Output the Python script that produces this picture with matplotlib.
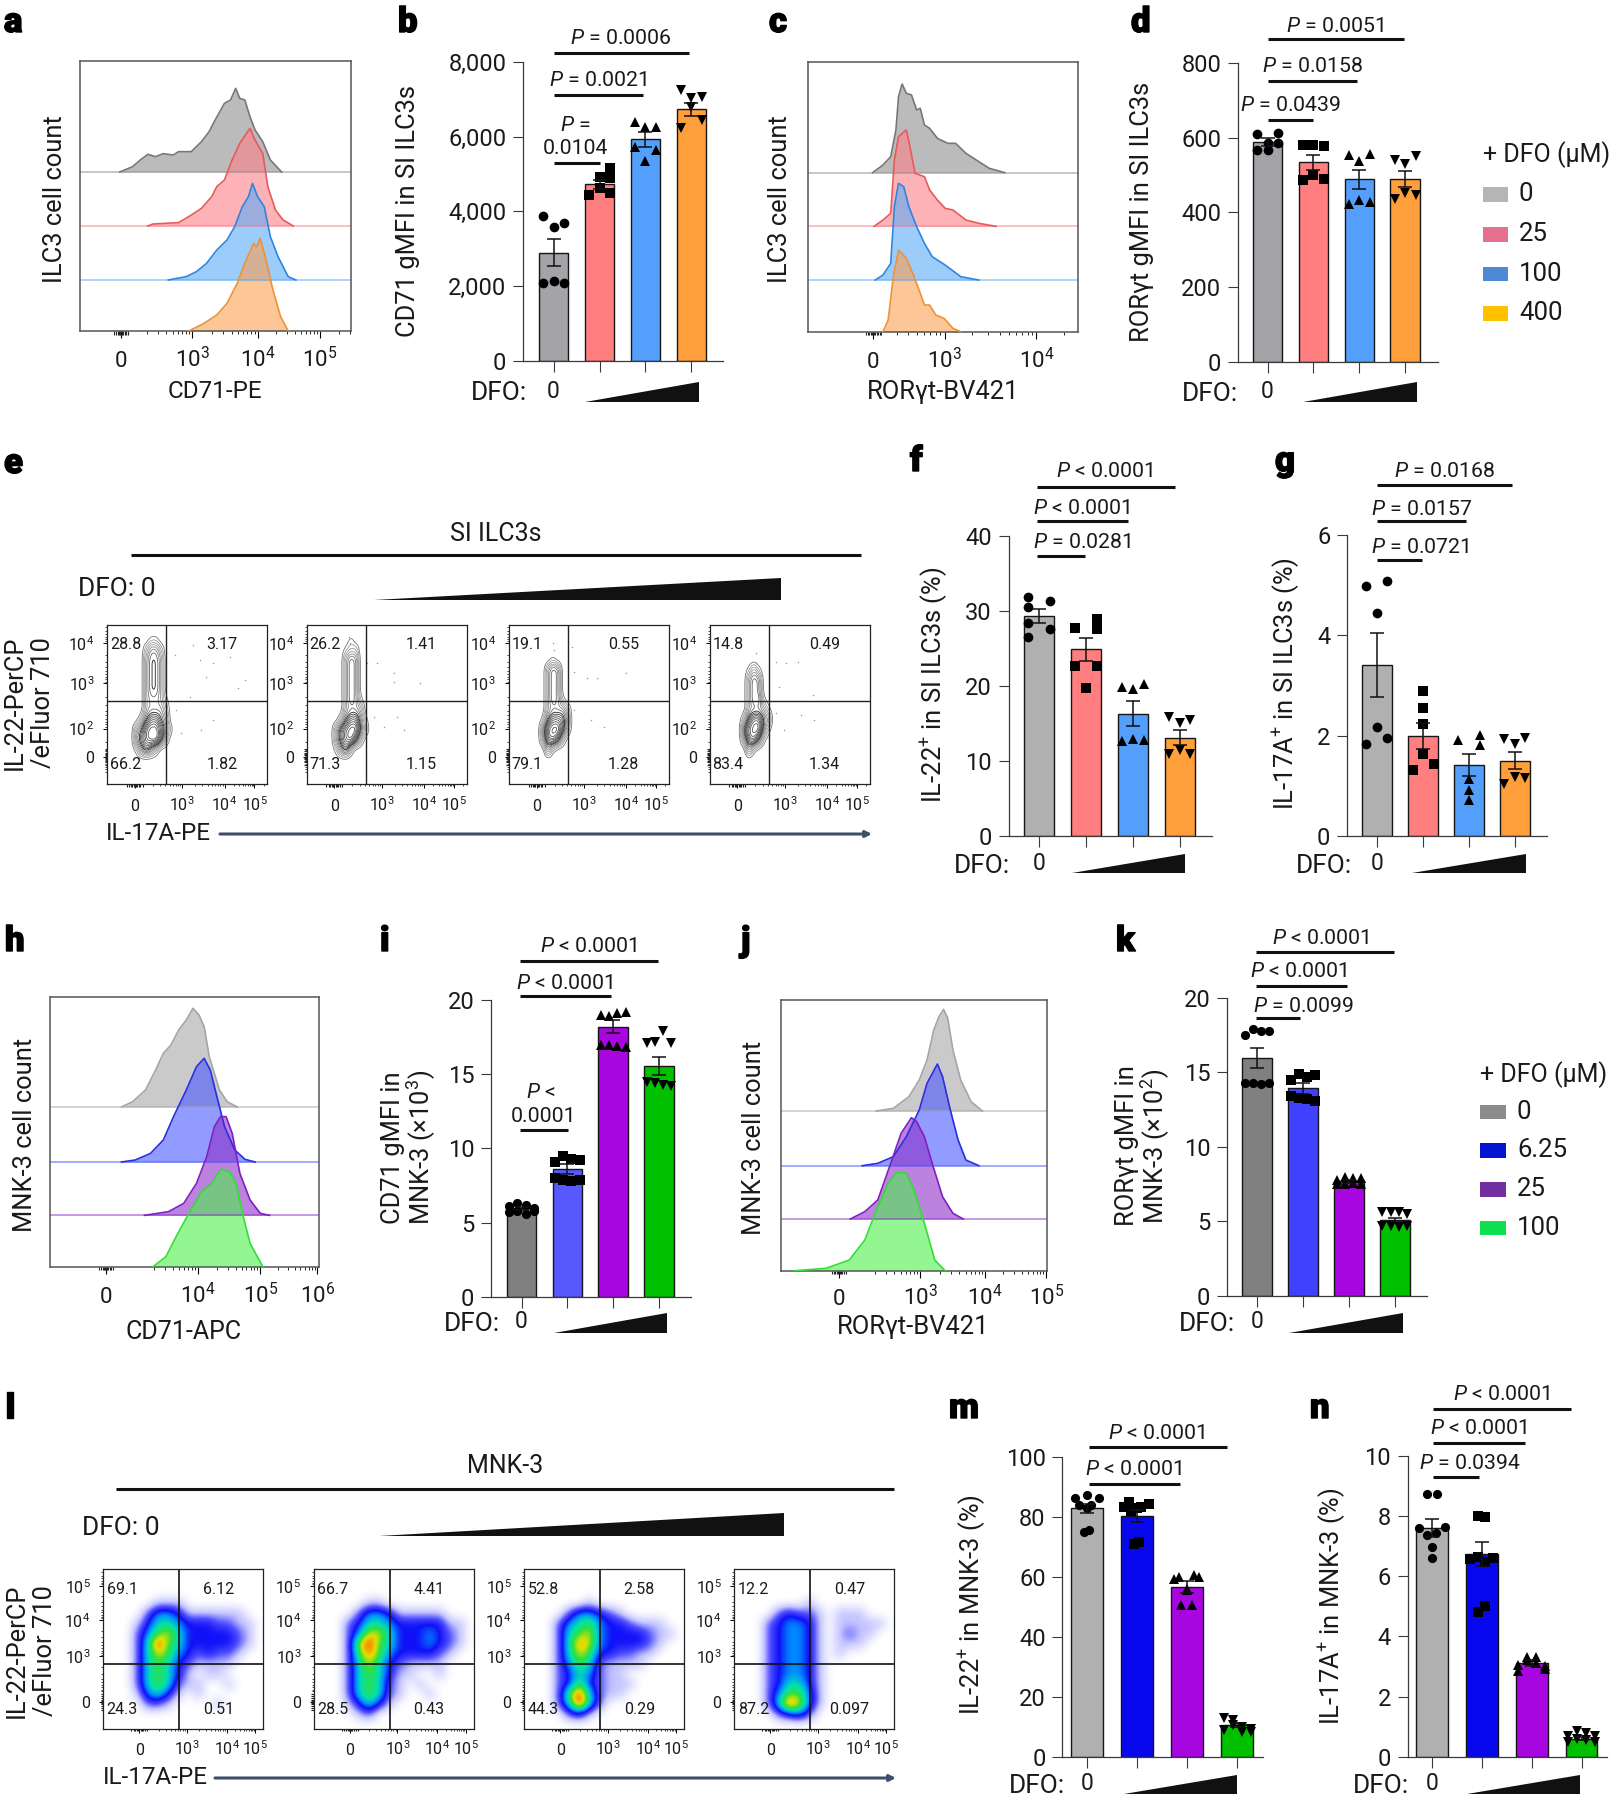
import numpy as np
import matplotlib
matplotlib.use("Agg")
import matplotlib.pyplot as plt
from matplotlib.colors import LinearSegmentedColormap
import matplotlib.patheffects as pe

FONT = "Roboto"
plt.rcParams["font.family"] = [FONT, "DejaVu Sans"]
plt.rcParams["mathtext.fontset"] = "custom"
plt.rcParams["mathtext.rm"] = FONT
plt.rcParams["mathtext.it"] = FONT + ":italic"
plt.rcParams["mathtext.bf"] = FONT + ":bold"
plt.rcParams["mathtext.default"] = "regular"

W, H = 1613, 1800

# ------------------------------------------------ bar chart data
b_means = [2900, 4720, 5930, 6730]
b_sem = [356, 130, 200, 170]
b_pts = [[3875, 3573, 3697, 2094, 2138, 2094], [4440, 4615, 4930, 4480, 4880, 5150],
         [6400, 6245, 6265, 5730, 5355, 5640], [7240, 7020, 7065, 6220, 6800, 6440]]
d_means = [589, 535, 489, 489]
d_sem = [10, 20, 26, 21]
d_pts = [[610, 586, 612, 568, 568, 586], [581, 581, 578, 487, 500, 490],
         [554, 538, 556, 424, 433, 427], [541, 530, 552, 436, 451, 447]]
f_means = [29.4, 24.9, 16.3, 13.1]
f_sem = [0.95, 1.5, 1.63, 1.0]
f_pts = [[30.6, 31.9, 31.4, 28.4, 26.6, 27.6], [27.8, 28.9, 27.6, 22.7, 19.7, 22.7],
         [19.8, 19.6, 20.3, 12.6, 12.9, 12.8], [15.8, 15.1, 15.4, 10.9, 11.4, 10.9]]
g_means = [3.41, 2.0, 1.42, 1.5]
g_sem = [0.64, 0.26, 0.22, 0.17]
g_pts = [[4.99, 4.45, 5.09, 1.84, 2.18, 1.96], [1.31, 2.9, 1.44, 2.56, 2.24, 1.64],
         [1.92, 1.14, 2.01, 0.91, 0.71, 1.81], [1.93, 1.84, 1.96, 1.03, 1.18, 1.16]]
i_means = [5.95, 8.6, 18.2, 15.55]
i_sem = [0.1, 0.35, 0.45, 0.6]
i_pts = [[6.1, 6.3, 6.2, 6.0, 5.7, 5.8, 5.6, 5.8], [9.1, 9.5, 9.3, 9.2, 8.0, 7.9, 7.8, 7.9],
         [19.0, 18.9, 19.1, 19.2, 17.0, 17.0, 16.9, 16.8], [17.1, 17.2, 17.9, 17.1, 14.5, 14.4, 14.3, 14.2]]
k_means = [15.97, 13.93, 7.7, 5.1]
k_sem = [0.65, 0.35, 0.1, 0.1]
k_pts = [[17.5, 17.9, 17.8, 17.8, 14.3, 14.3, 14.2, 14.3], [14.5, 14.9, 14.7, 14.8, 13.4, 13.3, 13.2, 13.1],
         [7.8, 8.0, 7.9, 7.9, 7.5, 7.5, 7.6, 7.5], [5.6, 5.6, 5.6, 5.5, 4.7, 4.7, 4.6, 4.7]]
m_means = [82.9, 80.4, 56.6, 10.6]
m_sem = [1.5, 2.0, 2.0, 0.8]
m_pts = [[86.4, 87.2, 86.1, 84, 84, 83, 75, 75.6], [83.3, 85, 82.8, 84.4, 83.3, 82, 70.9, 71.7],
         [60, 60.6, 59.4, 60, 55.6, 56, 50.5, 50.5], [12.8, 12.4, 10, 9.4, 8.9, 10.6, 8.3, 8.3]]
n_means = [7.59, 6.73, 3.1, 0.6]
n_sem = [0.3, 0.4, 0.1, 0.05]
n_pts = [[8.73, 8.73, 7.59, 7.65, 7.37, 7.43, 6.98, 6.6], [8.02, 7.97, 6.56, 6.65, 6.62, 6.49, 5.02, 4.82],
         [3.05, 3.3, 3.3, 3.0, 2.85, 3.2, 3.1, 2.9], [0.7, 0.85, 0.8, 0.7, 0.5, 0.6, 0.55, 0.5]]

# horizontal spread of the points where they do not follow the default pattern
b_spread = {1: [-0.22, 0.0, 0.0, 0.22, 0.22, 0.22]}
f_spread = {0: [-0.24, -0.24, 0.23, -0.24, -0.24, 0.23], 1: [-0.24, 0.24, 0.24, -0.24, 0.0, 0.24]}
g_spread = {1: [-0.22, 0.0, 0.24, 0.0, 0.0, 0.0], 2: [-0.23, 0.0, 0.24, 0.0, 0.0, 0.24]}
m_spread = {0: [-0.23, 0.0, 0.24, -0.15, 0.09, 0.0, -0.06, 0.05],
            1: [-0.25, -0.16, 0.01, 0.24, 0.09, -0.12, -0.06, 0.05],
            2: [-0.17, 0.13, -0.26, 0.24, 0.0, 0.0, -0.13, 0.09]}
n_spread = {0: [-0.1, 0.1, -0.27, 0.25, -0.1, 0.07, 0.0, 0.0],
            1: [-0.07, 0.06, -0.24, -0.07, 0.23, 0.06, 0.06, -0.08]}

b_yticks = [0, 2000, 4000, 6000, 8000]
b_ylabels = ["0", "2,000", "4,000", "6,000", "8,000"]
d_yticks = [0, 200, 400, 600, 800]
f_yticks = [0, 10, 20, 30, 40]
g_yticks = [0, 2, 4, 6]
ik_yticks = [0, 5, 10, 15, 20]
m_yticks = [0, 20, 40, 60, 80, 100]
n_yticks = [0, 2, 4, 6, 8, 10]

si_colors = ["#a3a3a8", "#ff7f80", "#559ffc", "#ff9f3c"]
si_colors2 = ["#b0b0b0", "#ff7f80", "#559ffc", "#ff9f3c"]
i_colors = ["#808080", "#5858ff", "#a806e0", "#00c000"]
k_colors = ["#808080", "#4040ff", "#a806e0", "#00c000"]
mn_colors = ["#b0b0b0", "#0808ee", "#a806e0", "#00c000"]

legend_si_labels = ["0", "25", "100", "400"]
legend_si_colors = ["#b5b5b5", "#e5708f", "#4f88d4", "#ffc000"]
legend_mn_labels = ["0", "6.25", "25", "100"]
legend_mn_colors = ["#8c8c8c", "#0414d0", "#7030a0", "#10e050"]

# ------------------------------------------------ histogram data (channel, height)
a_grey_x = [235, 260, 275, 290, 305, 320, 340, 350, 375, 395, 410, 420, 440, 452, 462, 470, 480, 490, 500, 515, 530, 552]
a_grey_h = [0, 16, 36, 53, 46, 55, 51, 61, 61, 91, 121, 151, 206, 216, 251, 221, 216, 166, 126, 91, 36, 0]
a_red_x = [290, 300, 350, 370, 395, 415, 425, 440, 455, 470, 490, 500, 515, 525, 540, 555, 575]
a_red_h = [0, 6, 10, 28, 53, 88, 118, 138, 198, 248, 293, 258, 218, 118, 48, 18, 0]
a_blue_x = [330, 365, 385, 405, 425, 445, 460, 475, 487, 495, 505, 518, 530, 545, 565, 580]
a_blue_h = [0, 10, 25, 50, 90, 120, 160, 220, 250, 290, 250, 220, 130, 70, 10, 0]
a_orange_x = [370, 400, 425, 445, 465, 480, 497, 503, 510, 520, 535, 550, 565]
a_orange_h = [0, 23, 48, 83, 143, 203, 263, 253, 278, 223, 123, 43, 0]

c_grey_x = [140, 160, 175, 185, 190, 197, 205, 215, 225, 232, 240, 250, 265, 285, 300, 320, 340, 365, 395]
c_grey_h = [0, 23, 48, 128, 228, 266, 238, 233, 188, 193, 143, 133, 103, 88, 88, 58, 38, 13, 0]
c_red_x = [143, 160, 175, 182, 190, 205, 212, 222, 240, 250, 265, 280, 295, 320, 345, 378]
c_red_h = [0, 19, 39, 199, 269, 289, 239, 159, 149, 109, 79, 54, 49, 19, 9, 0]
c_blue_x = [145, 160, 175, 182, 190, 200, 210, 225, 240, 255, 280, 310, 345]
c_blue_h = [0, 15, 50, 220, 290, 280, 220, 160, 110, 70, 45, 10, 0]
c_orange_x = [160, 170, 180, 190, 205, 220, 232, 240, 250, 262, 278, 295, 310]
c_orange_h = [0, 35, 165, 245, 220, 165, 115, 80, 80, 50, 40, 10, 0]

h_grey_x = [238, 260, 285, 305, 320, 335, 350, 365, 378, 390, 400, 410, 430, 445, 465]
h_grey_h = [0, 16, 51, 111, 161, 186, 231, 261, 296, 276, 241, 151, 51, 16, 0]
h_blue_x = [238, 265, 295, 320, 340, 365, 385, 400, 412, 425, 440, 460, 480, 500]
h_blue_h = [0, 6, 26, 66, 136, 216, 286, 311, 276, 196, 106, 36, 8, 0]
h_purple_x = [283, 330, 360, 385, 405, 420, 432, 443, 455, 470, 490, 510, 528]
h_purple_h = [0, 11, 36, 96, 176, 266, 296, 296, 246, 126, 46, 6, 0]
h_green_x = [300, 325, 345, 370, 395, 415, 432, 450, 462, 475, 490, 515]
h_green_h = [0, 30, 90, 160, 225, 250, 292, 285, 250, 160, 70, 0]

j_grey_x = [147, 180, 210, 230, 245, 258, 268, 277, 285, 295, 310, 330, 352]
j_grey_h = [0, 8, 43, 93, 153, 243, 283, 305, 278, 183, 93, 28, 0]
j_blue_x = [120, 150, 180, 205, 230, 245, 265, 275, 290, 305, 320, 345]
j_blue_h = [0, 7, 27, 87, 167, 247, 305, 267, 167, 77, 17, 0]
j_purple_x = [97, 125, 150, 175, 195, 215, 225, 240, 255, 275, 295, 315]
j_purple_h = [0, 22, 57, 167, 257, 304, 292, 247, 167, 67, 17, 0]
j_green_x = [-10, 50, 95, 125, 150, 170, 187, 205, 220, 240, 260, 280]
j_green_h = [0, 7, 32, 92, 192, 262, 295, 292, 242, 142, 32, 0]

# ------------------------------------------------ flow plot data
e_upper_left = ["28.8", "26.2", "19.1", "14.8"]
e_upper_right = ["3.17", "1.41", "0.55", "0.49"]
e_lower_left = ["66.2", "71.3", "79.1", "83.4"]
e_lower_right = ["1.82", "1.15", "1.28", "1.34"]
l_upper_left = ["69.1", "66.7", "52.8", "12.2"]
l_upper_right = ["6.12", "4.41", "2.58", "0.47"]
l_lower_left = ["24.3", "28.5", "44.3", "87.2"]
l_lower_right = ["0.51", "0.43", "0.29", "0.097"]

# contour density: digits 0-9, one string per row
e1_density = ["00011000", "00244200", "00355300", "00355300", "00355300", "00355300", "00344310",
              "00344420", "02577530", "35899741", "46899620", "14642000", "00000000"]
e2_density = ["00010000", "00122000", "00354000", "00354000", "00354000", "00354000", "00354100",
              "00344300", "02577410", "36899520", "36896200", "14620000", "00000000"]
e3_density = ["00000000", "00000000", "00010000", "00354000", "00354000", "00354000", "00354100",
              "00344420", "01577630", "04899620", "03786200", "00410000", "00000000"]
e4_density = ["00000000", "00000000", "00000000", "00131000", "00354000", "00354000", "00355100",
              "00344310", "02688530", "05899410", "03785100", "00410000", "00000000"]
e_density = [e1_density, e2_density, e3_density, e4_density]
e_dots_x = [[204, 259, 279, 319, 299, 414, 394, 209, 284, 319, 224, 249, 369],
            [182, 212, 262, 262, 342, 202, 272, 292, 232, 127, 132],
            [192, 197, 237, 267, 352, 197, 247, 287, 132, 137],
            [140, 140, 200, 230, 265, 210, 310, 200, 225, 275, 315]]
e_dots_y = [[92, 62, 107, 117, 157, 167, 192, 257, 317, 287, 327, 217, 97],
            [117, 117, 147, 172, 177, 277, 277, 317, 307, 37, 57],
            [67, 142, 162, 162, 147, 257, 287, 307, 57, 77],
            [87, 117, 112, 117, 112, 187, 212, 267, 317, 272, 287]]

# pseudocolour density: digits 0-9, one string per row
l1_density = ["0000000000000000", "0000000000000000", "0000000000000000", "0000011100000000",
              "0000244311111100", "0001355433322110", "0002467533333210", "0002596533333210",
              "0002576432322100", "0002565321111000", "0002565310110000", "0002565211001000",
              "0001453101000000", "0000221000010000", "0000000000000000", "0000000000000000"]
l2_density = ["0000000000000000", "0000000000000000", "0000000000000000", "0000011000000000",
              "0000244311111000", "0002355433333110", "0002477533343210", "0002796533343210",
              "0002686433332100", "0002575321111000", "0002565311001000", "0002565210100000",
              "0002565210010000", "0001353100000000", "0000120000000000", "0000000000000000"]
l3_density = ["0000000000000000", "0000000000000000", "0000000000000000", "0000001000000000",
              "0000244321000000", "0002456433211100", "0002567433332110", "0002587433332100",
              "0002576332211000", "0002465211110000", "0002354211000000", "0002363211100000",
              "0002695211000000", "0002595200000000", "0000231000000000", "0000000000000000"]
l4_density = ["0000000000000000", "0000000000000000", "0000000000000000", "0000000100000000",
              "0000232210111000", "0002344310111110", "0002344310121100", "0002344310111000",
              "0002344310100000", "0002344310000000", "0002344310000000", "0002355310000000",
              "0002466410000000", "0002597410000000", "0000234200000000", "0000000000000000"]
l_density = [l1_density, l2_density, l3_density, l4_density]

# ------------------------------------------------ canvas helpers
fig = plt.figure(figsize=(W / 100, H / 100), dpi=100, facecolor="white")
ov = fig.add_axes([0, 0, 1, 1], zorder=20)
ov.set_xlim(0, W)
ov.set_ylim(H, 0)
ov.axis("off")
ov.patch.set_alpha(0)


def axpx(l, t, r, b):
    return fig.add_axes([l / W, 1 - b / H, (r - l) / W, (b - t) / H])


def T(x, y, s, size=18, ha="center", va="center", rot=0, **kw):
    ov.text(x, y, s, fontsize=size, ha=ha, va=va, rotation=rot, color=kw.pop("color", "#1a1a1a"), **kw)


def L(x0, x1, y, lw=2.2, color="#111111"):
    ov.plot([x0, x1], [y, y], color=color, lw=lw, solid_capstyle="butt")


def wedge(x0, x1, yb, yt):
    ov.fill([x0, x1, x1], [yb, yb, yt], color="#111111", lw=0)


def P(s):
    return "$\\mathit{P}$" + s


def minors(decades, lo, hi):
    out = []
    logs = np.log10(np.arange(2, 10))
    for p0, p1 in zip(decades[:-1], decades[1:]):
        out += list(p0 + (p1 - p0) * logs)
    step = decades[1] - decades[0]
    out += list(decades[0] - step * (1 - logs))
    step = decades[-1] - decades[-2]
    out += list(decades[-1] + step * logs)
    a, c = min(lo, hi), max(lo, hi)
    return [v for v in out if a <= v <= c]


CLUSTER = np.array([-1, -0.72, -0.5, -0.3, -0.15, 0, 0.15, 0.3, 0.5, 0.72, 1])


def zero_cluster(ax, pos, spread, axis="x"):
    if axis == "x":
        ax.vlines(pos + CLUSTER * spread, -0.014, 0, transform=ax.get_xaxis_transform(),
                  color="#222222", lw=0.8, clip_on=False)
    else:
        ax.hlines(pos + CLUSTER * spread, -0.014, 0, transform=ax.get_yaxis_transform(),
                  color="#222222", lw=0.8, clip_on=False)


SPINE = "#3a3a3a"
MARK = ["o", "s", "^", "v"]
OFF6 = [-0.23, 0.0, 0.23, -0.23, 0.0, 0.23]
OFF8 = [-0.27, -0.09, 0.09, 0.27, -0.27, -0.09, 0.09, 0.27]


def bars(box, means, sem, pts, colors, yticks, ylab, margins, spread=None):
    ax = axpx(*box)
    x = np.arange(4)
    ax.bar(x, means, width=0.64, color=colors, edgecolor="#151515", linewidth=1.0, zorder=2)
    off = OFF6 if len(pts[0]) == 6 else OFF8
    ms = 7.0 if len(pts[0]) == 6 else 6.6
    for i in x:
        o = (spread or {}).get(int(i), off)
        ax.plot(i + np.array(o), pts[i], ls="none", marker=MARK[i], color="black", ms=ms, mew=0, zorder=3)
    ax.errorbar(x, means, yerr=sem, fmt="none", ecolor="#111111", elinewidth=1.1, capsize=5, capthick=1.1, zorder=4)
    ax.set_xlim(-margins[0], 3 + margins[1])
    ax.set_ylim(0, yticks[-1])
    ax.set_xticks(x)
    ax.set_xticklabels([])
    ax.set_yticks(yticks)
    ax.set_yticklabels(ylab if ylab else [str(v) for v in yticks])
    ax.tick_params(axis="x", length=8, width=0.8, color=SPINE)
    ax.tick_params(axis="y", length=7, width=0.8, color=SPINE, labelsize=17, pad=5, labelcolor="#1a1a1a")
    for s in ("top", "right"):
        ax.spines[s].set_visible(False)
    for s in ("left", "bottom"):
        ax.spines[s].set_color(SPINE)
        ax.spines[s].set_linewidth(0.9)
    ax.patch.set_alpha(0)
    return ax


def hist(box, xlim, total, bases, curves, line_cols, fill_cols, ticks, labels, tick_pad):
    ax = axpx(*box)
    for (cx, ch), base, lc, fc in zip(curves, bases, line_cols, fill_cols):
        cx, ch = np.array(cx, float), np.array(ch, float)
        ax.fill_between(cx, base, base + ch, color=fc, alpha=0.6, lw=0, zorder=2)
        ax.plot(cx, base + ch, color=lc, lw=1.2, zorder=3)
        if base > 0:
            ax.plot(xlim, [base, base], color=fc, lw=1.4, alpha=0.5, zorder=2.5, solid_capstyle="butt")
    ax.set_xlim(*xlim)
    ax.set_ylim(0, total)
    ax.set_yticks([])
    ax.set_xticks(ticks)
    ax.set_xticklabels(labels)
    ax.set_xticks(minors(ticks[1:], xlim[0], xlim[1]), minor=True)
    ax.tick_params(axis="x", which="major", length=5, width=0.8, labelsize=16, pad=tick_pad, labelcolor="#1a1a1a")
    ax.tick_params(axis="x", which="minor", length=2.5, width=0.6)
    for t in ax.get_xticklabels():
        t.set_va("baseline")
    zero_cluster(ax, ticks[0], 14)
    for s in ax.spines.values():
        s.set_color("#555555")
        s.set_linewidth(1.1)
    return ax


def digits(rows):
    return np.array([[int(c) for c in r] for r in rows], float)


def upsample(grid, f):
    up = np.kron(grid, np.ones((f, f)))
    up = np.pad(up, f, mode="constant")
    ker = np.ones(f) / f
    for _ in range(2):
        up = np.apply_along_axis(lambda v: np.convolve(v, ker, mode="same"), 0, up)
        up = np.apply_along_axis(lambda v: np.convolve(v, ker, mode="same"), 1, up)
    return up


def flow_frame(ax, xticks, yticks, xl, yl):
    ax.set_xlim(0, 481)
    ax.set_ylim(481, 0)
    ax.set_xticks(xticks)
    ax.set_xticklabels(xl)
    ax.set_yticks(yticks)
    ax.set_yticklabels(yl)
    ax.set_xticks(minors(xticks[1:], 0, 481), minor=True)
    ydec = [v for v in yticks if v != max(yticks)]
    ax.set_yticks(minors(ydec, 0, 481), minor=True)
    zero_cluster(ax, xticks[0], 24)
    zero_cluster(ax, max(yticks), 24, "y")
    ax.tick_params(axis="both", which="major", length=3, width=0.7, labelsize=11.5, labelcolor="#1a1a1a")
    ax.tick_params(axis="x", which="major", pad=16)
    ax.tick_params(axis="y", which="major", pad=6)
    ax.tick_params(axis="both", which="minor", length=1.6, width=0.5)
    for t in ax.get_xticklabels():
        t.set_va("baseline")
    for s in ax.spines.values():
        s.set_color("#222222")
        s.set_linewidth(0.9)


# ------------------------------------------------ histograms
GREY_L, RED_L, BLUE_L, ORA_L = "#777777", "#e85a5a", "#2e86e0", "#ee9236"
GREY_F, RED_F, BLUE_F, ORA_F = "#8f8f8f", "#fb7f88", "#5aaaf8", "#fba050"
hist((80, 61, 350.5, 331), (157, 687), 810, [477, 315, 153, 0],
     [(a_grey_x, a_grey_h), (a_red_x, a_red_h), (a_blue_x, a_blue_h), (a_orange_x, a_orange_h)],
     [GREY_L, RED_L, BLUE_L, ORA_L], [GREY_F, RED_F, BLUE_F, ORA_F],
     [238, 377, 505, 627], ["0", "10$^{3}$", "10$^{4}$", "10$^{5}$"], 21)
hist((807.8, 62.3, 1078.4, 331.7), (15, 537), 808, [477, 316, 155, 0],
     [(c_grey_x, c_grey_h), (c_red_x, c_red_h), (c_blue_x, c_blue_h), (c_orange_x, c_orange_h)],
     [GREY_L, RED_L, BLUE_L, ORA_L], [GREY_F, RED_F, BLUE_F, ORA_F],
     [141, 279, 456], ["0", "10$^{3}$", "10$^{4}$"], 21)
M_GL, M_BL, M_PL, M_NL = "#a5a5a5", "#2a2ee0", "#8020c0", "#30e030"
M_GF, M_BF, M_PF, M_NF = "#a8a8a8", "#4a58ff", "#9030c8", "#4cf04c"
hist((50, 997.3, 319, 1266.7), (98, 625), 808, [479, 314, 154, 0],
     [(h_grey_x, h_grey_h), (h_blue_x, h_blue_h), (h_purple_x, h_purple_h), (h_green_x, h_green_h)],
     [M_GL, M_BL, M_PL, M_NL], [M_GF, M_BF, M_PF, M_NF],
     [208, 388, 510, 622], ["0", "10$^{4}$", "10$^{5}$", "10$^{6}$"], 21)
hist((780.8, 1000, 1047.3, 1270.7), (-37, 477), 812, [479, 315, 155, 0],
     [(j_grey_x, j_grey_h), (j_blue_x, j_blue_h), (j_purple_x, j_purple_h), (j_green_x, j_green_h)],
     [M_GL, M_BL, M_PL, M_NL], [M_GF, M_BF, M_PF, M_NF],
     [75, 232, 357, 475], ["0", "10$^{3}$", "10$^{4}$", "10$^{5}$"], 20)

# ------------------------------------------------ bars
bars((523, 61.7, 723, 361), b_means, b_sem, b_pts, si_colors, b_yticks, b_ylabels, (0.667, 0.69), b_spread)
bars((1238, 63.3, 1437.6, 361.7), d_means, d_sem, d_pts, si_colors, d_yticks, None, (0.645, 0.71))
bars((1008.6, 536.3, 1212, 835.7), f_means, f_sem, f_pts, si_colors2, f_yticks, None, (0.66, 0.69), f_spread)
bars((1347, 535.3, 1547, 835.7), g_means, g_sem, g_pts, si_colors2, g_yticks, None, (0.65, 0.70), g_spread)
bars((491, 1000, 691, 1296.7), i_means, i_sem, i_pts, i_colors, ik_yticks, None, (0.667, 0.70))
bars((1227, 998, 1427, 1295.7), k_means, k_sem, k_pts, k_colors, ik_yticks, None, (0.654, 0.70))
bars((1062.3, 1456.7, 1262.7, 1756.7), m_means, m_sem, m_pts, mn_colors, m_yticks, None, (0.49, 0.51), m_spread)
bars((1407.8, 1456, 1607.4, 1756.7), n_means, n_sem, n_pts, mn_colors, n_yticks, None, (0.49, 0.52), n_spread)

# ------------------------------------------------ contour plots (e)
e_left = [106.8, 306.5, 508.6, 709.5]
e_xt = [84, 227, 354, 444]
e_xl = ["0", "10$^{3}$", "10$^{4}$", "10$^{5}$"]
e_yt = [55, 177, 313, 397]
e_yl = ["10$^{4}$", "10$^{3}$", "10$^{2}$", "0"]
contour_levels = [0.7, 1.3, 1.9, 2.5, 3.1, 3.7, 4.3, 4.9, 5.4, 5.9, 6.4, 6.9, 7.4, 7.9, 8.4]
contour_cols = ["#777777", "#9a9a9a", "#9a9a9a", "#9a9a9a", "#8a8a8a", "#7a7a7a", "#666666", "#222222",
                "#444444", "#555555", "#555555", "#555555", "#555555", "#555555", "#555555"]
for i, l in enumerate(e_left):
    ax = axpx(l, 624.5, l + 160, 784.5)
    F = 8
    Z = upsample(digits(e_density[i]), F)
    X = 79 + (np.arange(Z.shape[1]) - F + 0.5) * 15 / F
    Y = 27 + (np.arange(Z.shape[0]) - F + 0.5) * 30 / F
    ax.contour(X, Y, Z, levels=contour_levels, colors=contour_cols, linewidths=0.6)
    ax.plot(e_dots_x[i], e_dots_y[i], ls="none", marker=".", ms=2.2, color="#999999", mew=0)
    ax.axvline(179, color="#222222", lw=1.0)
    ax.axhline(229, color="#222222", lw=1.0)
    flow_frame(ax, e_xt, e_yt, e_xl, e_yl)
    ax.text(9, 60, e_upper_left[i], fontsize=11.5, va="center", ha="left", color="#1a1a1a")
    ax.text(346, 60, e_upper_right[i], fontsize=11.5, va="center", ha="center", color="#1a1a1a")
    ax.text(9, 421, e_lower_left[i], fontsize=11.5, va="center", ha="left", color="#1a1a1a")
    ax.text(346, 421, e_lower_right[i], fontsize=11.5, va="center", ha="center", color="#1a1a1a")

# ------------------------------------------------ pseudocolour plots (l)
density_cmap = LinearSegmentedColormap.from_list(
    "density", ["#ffffff", "#c4c4ff", "#5050ff", "#1010f8", "#0090ff", "#00e0b0", "#30e040", "#e0e000", "#ff8000", "#ff0000"])
l_left = [103, 313.7, 524, 734]
l_xt = [109, 251, 371, 456]
l_xl = ["0", "10$^{3}$", "10$^{4}$", "10$^{5}$"]
l_yt = [51, 153, 263, 400]
l_yl = ["10$^{5}$", "10$^{4}$", "10$^{3}$", "0"]
for i, l in enumerate(l_left):
    ax = axpx(l, 1569, l + 160.3, 1729)
    ax.imshow(digits(l_density[i]), extent=(0, 481, 481, 0), cmap=density_cmap, vmin=0, vmax=9,
              interpolation="bicubic", aspect="auto", zorder=1)
    ax.axvline(229, color="#111111", lw=1.2, zorder=2)
    ax.axhline(286, color="#111111", lw=1.2, zorder=2)
    flow_frame(ax, l_xt, l_yt, l_xl, l_yl)
    ax.text(11, 61, l_upper_left[i], fontsize=11.5, va="center", ha="left", color="#1a1a1a", zorder=3)
    ax.text(346, 61, l_upper_right[i], fontsize=11.5, va="center", ha="center", color="#1a1a1a", zorder=3)
    ax.text(11, 423, l_lower_left[i], fontsize=11.5, va="center", ha="left", color="#1a1a1a", zorder=3)
    ax.text(346, 423, l_lower_right[i], fontsize=11.5, va="center", ha="center", color="#1a1a1a", zorder=3)

# ------------------------------------------------ panel letters
letters = [("a", 4, 32), ("b", 398, 32), ("c", 769, 32), ("d", 1131, 32), ("e", 4, 473), ("f", 910, 471),
           ("g", 1275, 471), ("h", 5, 951), ("i", 380, 951), ("j", 741, 951), ("k", 1116, 951),
           ("l", 5, 1418), ("m", 949, 1418), ("n", 1310, 1418)]
for s, x, y in letters:
    ov.text(x, y, s, fontsize=25, fontweight="black", ha="left", va="baseline", color="black",
            path_effects=[pe.withStroke(linewidth=1.0, foreground="black")])

# ------------------------------------------------ axis titles
ROT = 18.4
T(55, 199, "ILC3 cell count", size=ROT, rot=90)
T(215, 392, "CD71-PE", size=17.5)
T(408, 211, "CD71 gMFI in SI ILC3s", size=ROT, rot=90)
T(780, 199, "ILC3 cell count", size=ROT, rot=90)
T(942.6, 392, "RORγt-BV421", size=18.4)
T(1142, 212, "RORγt gMFI in SI ILC3s", size=ROT, rot=90)
T(933.8, 685, "IL-22$^{+}$ in SI ILC3s (%)", size=ROT, rot=90)
T(1286.7, 684, "IL-17A$^{+}$ in SI ILC3s (%)", size=ROT, rot=90)
T(25.5, 1135, "MNK-3 cell count", size=ROT, rot=90)
T(183.7, 1331.7, "CD71-APC", size=18)
T(393, 1147.5, "CD71 gMFI in", size=ROT, rot=90)
T(421, 1147.5, "MNK-3 (×10$^{3}$)", size=ROT, rot=90)
T(754, 1137.5, "MNK-3 cell count", size=ROT, rot=90)
T(913, 1327, "RORγt-BV421", size=18.4)
T(1126.6, 1146, "RORγt gMFI in", size=ROT, rot=90)
T(1155, 1146, "MNK-3 (×10$^{2}$)", size=ROT, rot=90)
T(972, 1605, "IL-22$^{+}$ in MNK-3 (%)", size=ROT, rot=90)
T(1332.7, 1606, "IL-17A$^{+}$ in MNK-3 (%)", size=ROT, rot=90)

T(15, 703, "IL-22-PerCP", size=ROT, rot=90)
T(43, 703, "/eFluor 710", size=ROT, rot=90)
T(496, 534, "SI ILC3s", size=18)
L(131, 861, 555)
T(78, 589, "DFO: 0", size=19, ha="left")
wedge(374, 781, 600, 578)
T(158.5, 833, "IL-17A-PE", size=17.5)
ov.annotate("", xy=(872, 834), xytext=(220, 834),
            arrowprops=dict(arrowstyle="-|>", color="#3d4f6a", lw=2.2, mutation_scale=9, shrinkA=0, shrinkB=0))

T(17, 1651, "IL-22-PerCP", size=ROT, rot=90)
T(45, 1651, "/eFluor 710", size=ROT, rot=90)
T(505, 1466, "MNK-3", size=18)
L(116, 894, 1489)
T(81.5, 1528, "DFO: 0", size=19, ha="left")
wedge(379, 784, 1536, 1513)
T(155, 1777.7, "IL-17A-PE", size=17.5)
ov.annotate("", xy=(896, 1778), xytext=(215, 1778),
            arrowprops=dict(arrowstyle="-|>", color="#3d4f6a", lw=2.2, mutation_scale=9, shrinkA=0, shrinkB=0))

# ------------------------------------------------ DFO row
dfo = [(499, 393, 553.6, 391, 585, 699, 401.7, 382.3), (1209.5, 394, 1267.6, 391, 1303, 1417, 401.7, 382),
       (982, 866, 1039.4, 864, 1071.7, 1185, 873.3, 854.3), (1324, 866, 1377, 864, 1411.6, 1525.6, 873.3, 854.3),
       (472, 1324, 521, 1321.7, 553.6, 666.8, 1332.7, 1313.3), (1207, 1324, 1257, 1321.7, 1289, 1403, 1333, 1313),
       (1037, 1786, 1086.8, 1783, 1123.7, 1237.4, 1794.3, 1775), (1381, 1786, 1432.3, 1783, 1467, 1580, 1794.3, 1775)]
for dx, dy, zx, zy, w0, w1, yb, yt in dfo:
    T(dx, dy, "DFO:", size=19)
    T(zx, zy, "0", size=16.5)
    wedge(w0, w1, yb, yt)

# ------------------------------------------------ P-value brackets
brk = [(553.6, 689, 53.3, 621, 39, " = 0.0006"), (553.6, 643, 94.7, 598, 81, " = 0.0021"),
       (553.6, 599.5, 162.7, 575.5, 125.7, " ="),
       (1268, 1404, 39.3, 1335.5, 26, " = 0.0051"), (1268, 1357, 80.7, 1312.7, 66.7, " = 0.0158"),
       (1268, 1313, 120, 1291, 105.7, " = 0.0439"),
       (1036.6, 1174.5, 486.7, 1105, 471.7, " < 0.0001"), (1036.6, 1127.8, 520.7, 1082, 508, " < 0.0001"),
       (1036.6, 1084.8, 556, 1082, 543, " = 0.0281"),
       (1377, 1512, 485, 1444.3, 471.7, " = 0.0168"), (1377, 1465.8, 521, 1421.4, 509.3, " = 0.0157"),
       (1377, 1422, 560, 1420.5, 547.3, " = 0.0721"),
       (520.4, 658, 960.7, 589, 946.7, " < 0.0001"), (520.4, 611, 996, 565, 983.3, " < 0.0001"),
       (520.4, 568, 1130.3, 541, 1093, " <"),
       (1256, 1393.6, 952.3, 1321, 938.3, " < 0.0001"), (1256, 1347, 986, 1299, 971.7, " < 0.0001"),
       (1256, 1300, 1017.7, 1304, 1006, " = 0.0099"),
       (1089, 1226.7, 1446.7, 1156.7, 1433.3, " < 0.0001"), (1089, 1180, 1483.7, 1134, 1469.3, " < 0.0001"),
       (1432.7, 1571, 1409.3, 1501.4, 1394.3, " < 0.0001"), (1432.7, 1525, 1442.7, 1478.6, 1429, " < 0.0001"),
       (1432.7, 1478.6, 1476.7, 1470, 1463.3, " = 0.0394")]
for x0, x1, y, tx, ty, s in brk:
    L(x0, x1, y)
    T(tx, ty, P(s), size=15.3)
T(575.5, 148, "0.0104", size=15.3)
T(543, 1116.7, "0.0001", size=15.3)

# ------------------------------------------------ legends
T(1483, 155, "+ DFO (µM)", size=18, ha="left")
for (y0, y1), c, s in zip([(187, 201.7), (226.7, 241.7), (266.7, 281), (305.7, 320.7)], legend_si_colors, legend_si_labels):
    ov.fill([1482.7, 1508, 1508, 1482.7], [y0, y0, y1, y1], color=c, lw=0)
    T(1519, (y0 + y1) / 2, s, size=18.5, ha="left")
T(1480, 1075, "+ DFO (µM)", size=18, ha="left")
for (y0, y1), c, s in zip([(1105, 1119), (1143, 1157.7), (1182, 1196.7), (1220.7, 1235)], legend_mn_colors, legend_mn_labels):
    ov.fill([1480, 1506, 1506, 1480], [y0, y0, y1, y1], color=c, lw=0)
    T(1517, (y0 + y1) / 2, s, size=18.5, ha="left")

fig.savefig("out.png", dpi=100, facecolor="white")
